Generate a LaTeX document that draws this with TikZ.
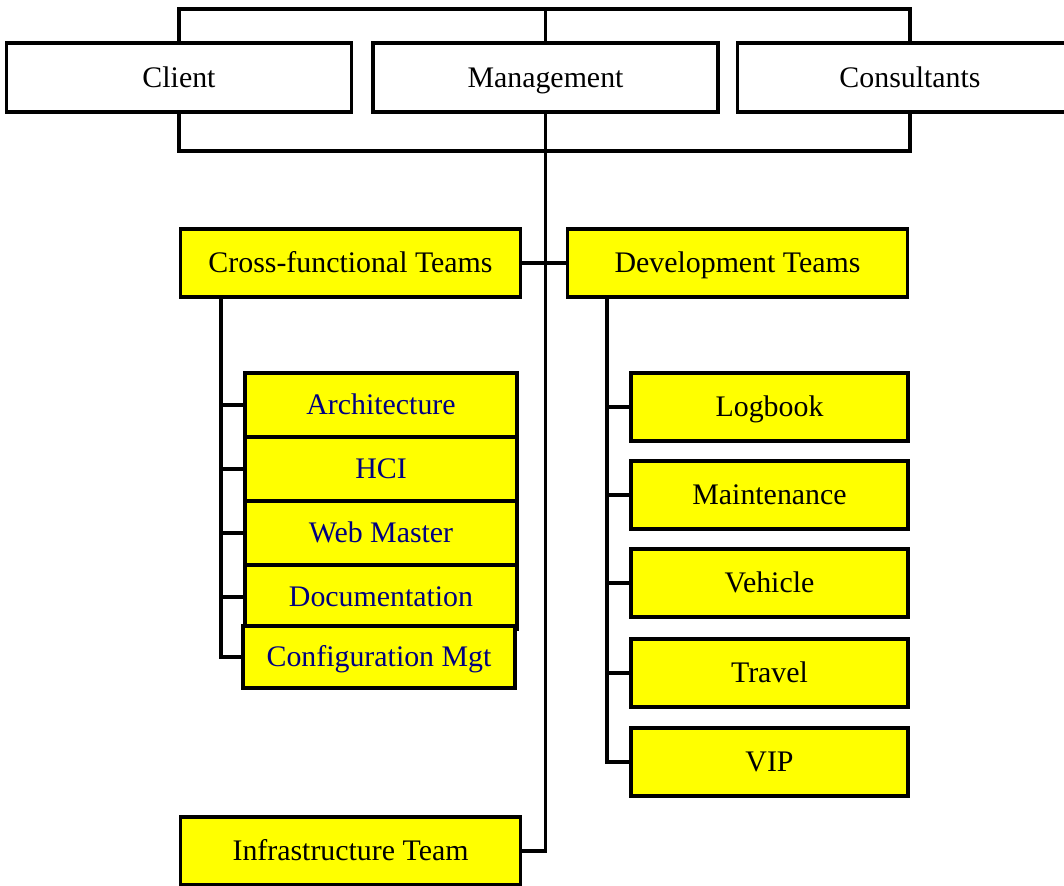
\documentclass[tikz,border=0pt]{standalone}
\usepackage{fontspec}
\setmainfont{Liberation Serif}
\definecolor{giallo}{RGB}{255,255,0}
\definecolor{blu}{RGB}{0,0,128}
\tikzset{
  capo/.style  = {rectangle, draw, line width=2pt, fill=white, minimum width=6.9cm, minimum height=1.38cm, inner sep=0, text height=11.3pt, text depth=0pt, font=\fontsize{17}{20}\selectfont},
  team/.style  = {rectangle, draw, line width=2pt, fill=giallo, minimum width=6.8cm, minimum height=1.36cm, inner sep=0, text height=11.3pt, text depth=0pt, font=\fontsize{17}{20}\selectfont},
  sotto/.style = {rectangle, draw, line width=2pt, fill=giallo, minimum width=5.44cm, minimum height=1.28cm, inner sep=0, text height=11.3pt, text depth=0pt, text=blu, font=\fontsize{17}{20}\selectfont},
  svil/.style  = {rectangle, draw, line width=2pt, fill=giallo, minimum width=5.54cm, minimum height=1.36cm, inner sep=0, text height=11.3pt, text depth=0pt, font=\fontsize{17}{20}\selectfont},
  link/.style  = {line width=1.8pt}
}
\begin{document}
\begin{tikzpicture}[x=0.02cm, y=-0.02cm]
  \useasboundingbox (0,0) rectangle (1064,885);
  % vertice
  \node[capo] (client) at (179,77.5) {Client};
  \node[capo] (mgmt) at (545.5,77.5) {Management};
  \node[capo] (consult) at (910,77.5) {Consultants};
  \coordinate (top) at (0,9);
  \coordinate (bot) at (0,151);
  \draw[link] (client.north) |- (top -| consult.north) -- (consult.north);
  \draw[link] (mgmt.north) -- (mgmt.north |- top);
  \draw[link] (client.south) |- (bot -| consult.south) -- (consult.south);
  % team
  \node[team] (cross) at (350.5,263) {Cross-functional Teams};
  \node[team] (dev) at (737.5,263) {Development Teams};
  \node[team] (infra) at (350.5,851) {Infrastructure Team};
  \draw[link] (mgmt.south) -- (mgmt.south |- bot) -- (mgmt.south |- infra.east) -- (infra.east);
  \draw[link] (cross.east) -- (dev.west);
  % cross-functional
  \coordinate (spinaL) at (221,0);
  \node[sotto] (arch) at (381,405) {Architecture};
  \node[sotto] (hci) at (381,469) {HCI};
  \node[sotto] (web) at (381,533) {Web Master};
  \node[sotto] (doc) at (381,597) {Documentation};
  \node[sotto, minimum height=1.24cm] (conf) at (379,657) {Configuration Mgt};
  \draw[link] (cross.south -| spinaL) |- (conf.west);
  \draw[link] (arch.west -| spinaL) -- (arch.west);
  \draw[link] (hci.west -| spinaL) -- (hci.west);
  \draw[link] (web.west -| spinaL) -- (web.west);
  \draw[link] (doc.west -| spinaL) -- (doc.west);
  % sviluppo
  \coordinate (spinaR) at (607,0);
  \node[svil] (log) at (769.5,407) {Logbook};
  \node[svil] (maint) at (769.5,495) {Maintenance};
  \node[svil] (veh) at (769.5,583) {Vehicle};
  \node[svil] (trav) at (769.5,673) {Travel};
  \node[svil] (vip) at (769.5,762) {VIP};
  \draw[link] (dev.south -| spinaR) |- (vip.west);
  \draw[link] (log.west -| spinaR) -- (log.west);
  \draw[link] (maint.west -| spinaR) -- (maint.west);
  \draw[link] (veh.west -| spinaR) -- (veh.west);
  \draw[link] (trav.west -| spinaR) -- (trav.west);
\end{tikzpicture}
\end{document}
